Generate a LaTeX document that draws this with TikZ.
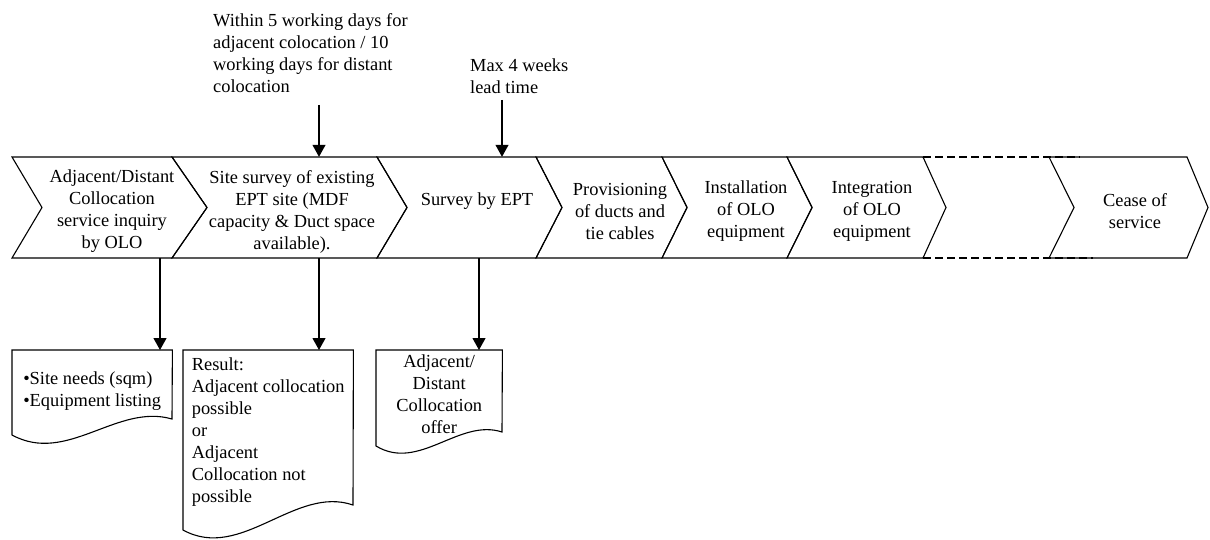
\documentclass[tikz,border=0pt]{standalone}
\usepackage{fontspec}
\setmainfont{Liberation Serif}
\usetikzlibrary{arrows.meta}

\begin{document}
\begin{tikzpicture}[
        x=1pt, y=-1pt,
        >={Triangle[length=12pt, width=13pt]},
        font=\fontsize{18.4}{22}\selectfont,
        % Styles
        stagebox/.style={draw=black, line width=1.1pt},
        stagetext/.style={inner sep=0pt, minimum height=109pt, align=center},
        gapline/.style={line width=1.1pt, dash pattern=on 8pt off 4pt},
        docbox/.style={draw=black, line width=1.1pt},
        doctext/.style={inner sep=0pt, anchor=north west},
        notetext/.style={inner sep=0pt, anchor=west, align=left},
        arrow/.style={->, line width=1.1pt},
    ]
    \useasboundingbox (0,0) rectangle (1210,540);

    % === PROCESS STAGES ===
    \draw[gapline] (923,157) -- (1080,157);
    \draw[gapline] (923,258) -- (1093,258);

    \draw[stagebox] (12,157) -- (172,157) -- (207,207.5) -- (172,258) -- (12,258) -- (42,207.5) -- cycle;
    \draw[stagebox] (172,157) -- (377,157) -- (407,207.5) -- (377,258) -- (172,258) -- (207,207.5) -- cycle;
    \draw[stagebox] (377,157) -- (536,157) -- (562,207.5) -- (536,258) -- (377,258) -- (407,207.5) -- cycle;
    \draw[stagebox] (536,157) -- (662,157) -- (687,207.5) -- (662,258) -- (536,258) -- (562,207.5) -- cycle;
    \draw[stagebox] (662,157) -- (787,157) -- (812,207.5) -- (787,258) -- (662,258) -- (687,207.5) -- cycle;
    \draw[stagebox] (787,157) -- (923,157) -- (946,207.5) -- (923,258) -- (787,258) -- (812,207.5) -- cycle;
    \draw[stagebox] (1049,157) -- (1187,157) -- (1208,207.5) -- (1187,258) -- (1049,258) -- (1074,207.5) -- cycle;

    \node[stagetext] (inquiry) at (112,211.5) {Adjacent/Distant\\Collocation\\service inquiry\\by OLO};
    \node[stagetext] (sitesurvey) at (292,211.5) {Site survey of existing\\EPT site (MDF\\capacity \& Duct space\\available).};
    \node[stagetext, text depth=24pt] (eptsurvey) at (477,211.5) {Survey by EPT};
    \node[stagetext] (ducts) at (620,211.5) {Provisioning\\of ducts and\\tie cables};
    \node[stagetext] (install) at (746,211.5) {Installation\\of OLO\\equipment};
    \node[stagetext] (integration) at (872,211.5) {Integration\\of OLO\\equipment};
    \node[stagetext] (cease) at (1135,211.5) {Cease of\\service};

    % === TIME NOTES ===
    \node[notetext] (surveynote) at (213,53) {Within 5 working days for\\adjacent colocation / 10\\working days for distant\\colocation};
    \node[notetext] (leadnote) at (470,76) {Max 4 weeks\\lead time};

    \coordinate (w1) at (319,105);
    \coordinate (w2) at (502,100);
    \draw[arrow] (w1) -- (w1 |- sitesurvey.north);
    \draw[arrow] (w2) -- (w2 |- eptsurvey.north);

    % === DOCUMENTS ===
    \node[doctext, minimum width=160pt, minimum height=82pt, align=left] (needs) at (12,350) {•Site needs (sqm)\\•Equipment listing};
    \node[doctext, minimum width=170pt, minimum height=164pt, align=left] (result) at (183,350) {Result:\\Adjacent collocation\\possible\\or\\Adjacent\\Collocation not\\possible};
    \node[doctext, minimum width=126pt, minimum height=88pt, align=center] (offer) at (376,350) {Adjacent/\\Distant\\Collocation\\offer};

    \draw[docbox] (12,435) .. controls (67,465) and (117,403) .. (172,419) -- (needs.north east) -- (needs.north west) -- cycle;
    \draw[docbox] (183,530) .. controls (241,562) and (295,485) .. (353,505) -- (result.north east) -- (result.north west) -- cycle;
    \draw[docbox] (376,446) .. controls (419,472) and (459,418) .. (502,432) -- (offer.north east) -- (offer.north west) -- cycle;

    % Outputs of the stages
    \coordinate (a1) at (160,258);
    \coordinate (a2) at (319,258);
    \coordinate (a3) at (479,258);
    \draw[arrow] (a1) -- (a1 |- needs.north);
    \draw[arrow] (a2) -- (a2 |- result.north);
    \draw[arrow] (a3) -- (a3 |- offer.north);

\end{tikzpicture}
\end{document}
